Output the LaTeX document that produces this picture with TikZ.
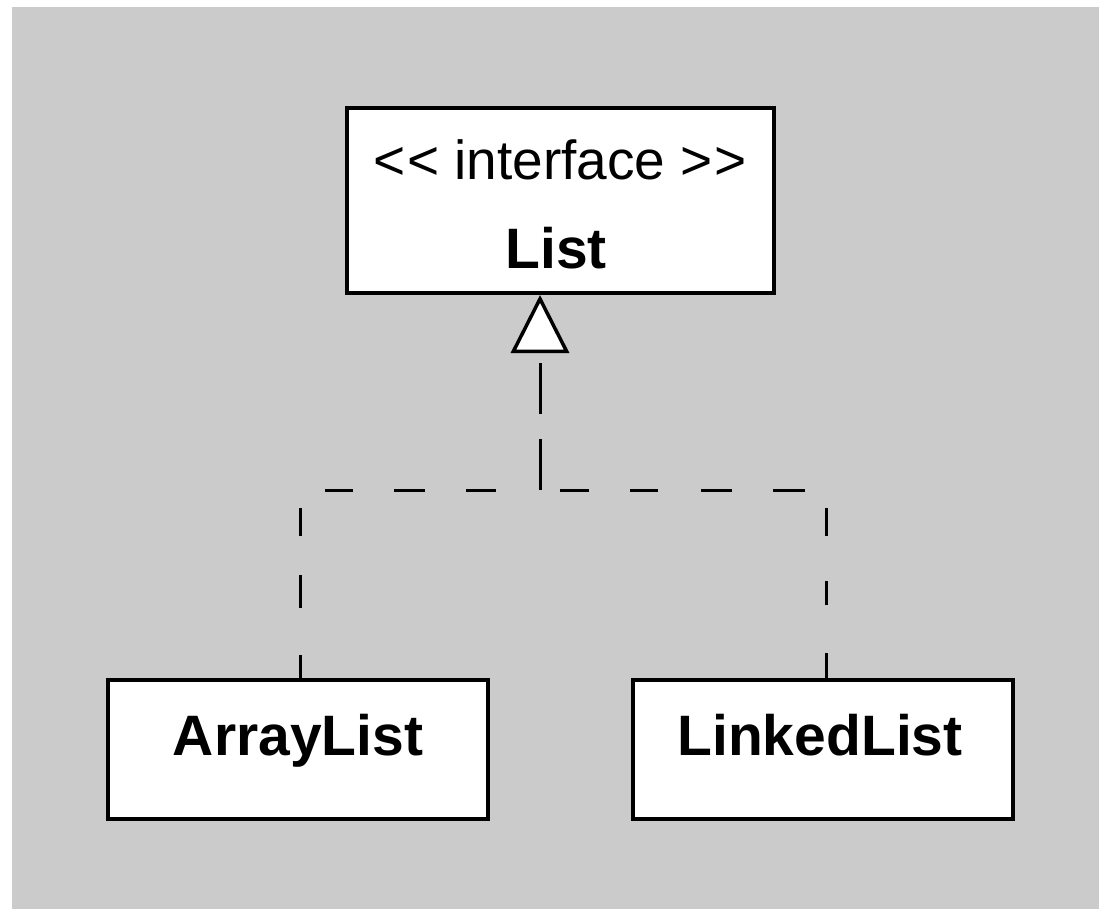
\documentclass[tikz,border=0pt]{standalone}
\usepackage{fontspec}
\setmainfont{Liberation Sans}
\usetikzlibrary{arrows.meta}

\tikzset{
  classbox/.style={draw=black, fill=white, line width=4pt, rectangle, inner sep=0pt},
  stereo/.style={anchor=base, inner sep=0pt, font=\fontsize{55}{60}\selectfont},
  classname/.style={anchor=base, inner sep=0pt, font=\fontsize{57}{63}\selectfont\bfseries},
  realize/.style={line width=3pt, draw=black},
  realizetip/.style={-{Triangle[open, fill=white, length=58pt, width=58pt, line width=3.5pt]}}
}

\begin{document}
\begin{tikzpicture}[x=1pt, y=-1pt]
  % page and grey canvas
  \useasboundingbox (0,0) rectangle (1099,909);
  \fill[white] (0,0) rectangle (1099,909);
  \fill[fill={rgb,255:red,203;green,203;blue,203}] (12,7) rectangle (1110,920);

  % classes
  \node[classbox, minimum width=427pt, minimum height=185pt] (List) at (560.5,200.5) {};
  \node[stereo] (listStereo) at (560,180) {<\kern2pt< interface >\kern2pt>};
  \node[classname] (listName) at (556,268) {List};

  \node[classbox, minimum width=380pt, minimum height=139pt] (ArrayList) at (298,749.5) {};
  \node[classname] (arrayName) at (298,755) {ArrayList};

  \node[classbox, minimum width=380pt, minimum height=139pt] (LinkedList) at (823,749.5) {};
  \node[classname] (linkedName) at (820,755) {LinkedList};

  % junction of the realization lines
  \coordinate (J) at (540,490);

  % realization connectors
  \draw[realize, dash pattern=on 23pt off 47pt on 33pt off 39pt on 28pt off 43pt on 28pt off 41pt on 31pt off 41pt on 30pt off 46pt]
    (ArrayList.north -| 300,0) |- (J);
  \draw[realize, dash pattern=on 25pt off 48pt on 24pt off 45pt on 28pt off 39pt on 32pt off 41pt on 31pt off 43pt on 28pt off 41pt on 29pt off 22pt]
    (LinkedList.north -| 826,0) |- (J);
  \draw[realize, realizetip, dash pattern=on 51pt off 25pt]
    (J) -- (List.south -| J);
\end{tikzpicture}
\end{document}
